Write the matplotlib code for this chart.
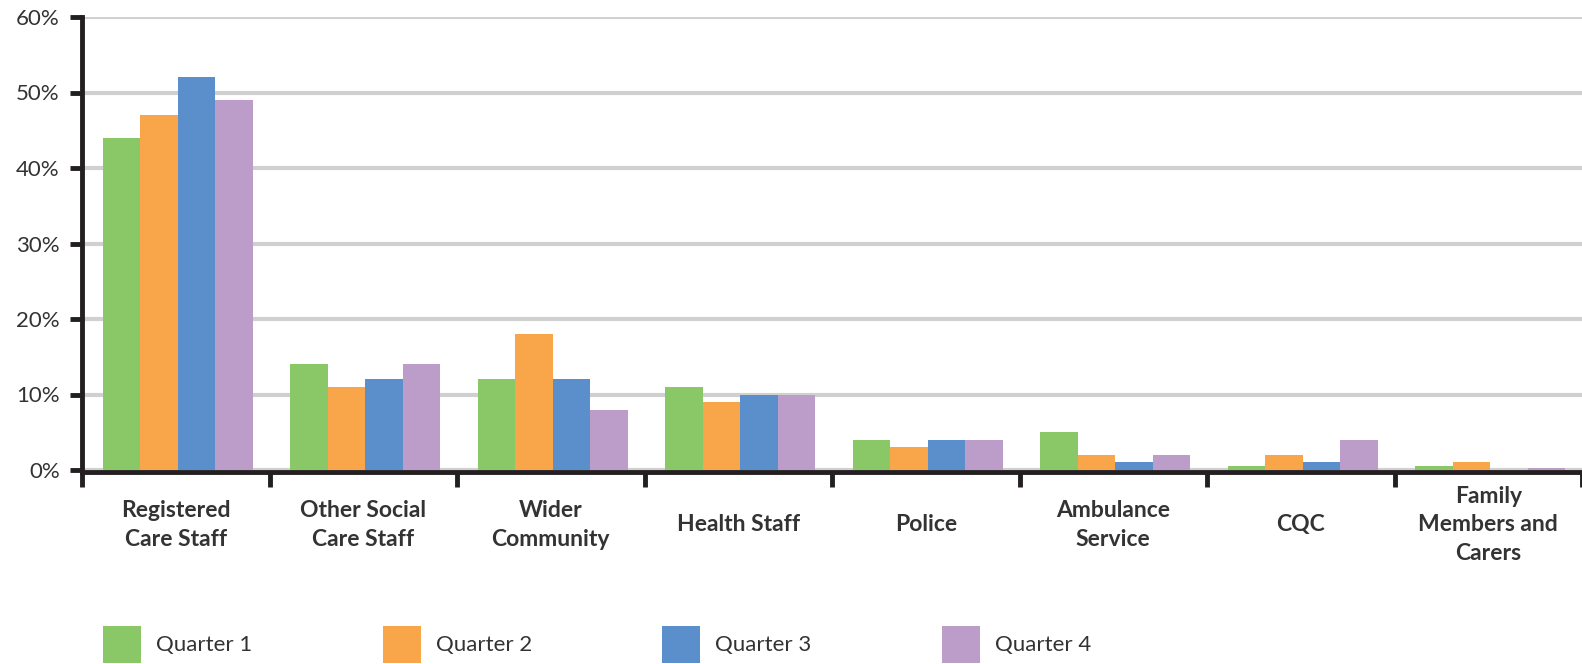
import numpy as np
import matplotlib
matplotlib.use("Agg")
import matplotlib.pyplot as plt
from matplotlib.patches import Patch
from matplotlib.ticker import FuncFormatter

plt.rcParams['font.family'] = ['Lato', 'DejaVu Sans']

# Data (percent)
categories = ['Registered\nCare Staff', 'Other Social\nCare Staff', 'Wider\nCommunity',
              'Health Staff', 'Police', 'Ambulance\nService', 'CQC',
              'Family\nMembers and\nCarers']
quarter_1 = [44, 14, 12, 11, 4, 5, 0.5, 0.5]
quarter_2 = [47, 11, 18, 9, 3, 2, 2, 1]
quarter_3 = [52, 12, 12, 10, 4, 1, 1, 0]
quarter_4 = [49, 14, 8, 10, 4, 2, 4, 0.3]
series_names = ['Quarter 1', 'Quarter 2', 'Quarter 3', 'Quarter 4']
y_ticks = [0, 10, 20, 30, 40, 50, 60]

colors = ['#8AC867', '#F9A54A', '#5A8FCB', '#BC9DC9']
axis_color = '#231F20'
grid_color = '#D0D0D0'
text_color = '#333333'

fig = plt.figure(figsize=(15.82, 6.64), dpi=100)
ax = fig.add_axes([82 / 1582, 1 - 470 / 664, 1 - 82 / 1582, (470 - 17) / 664])

series = [quarter_1, quarter_2, quarter_3, quarter_4]
x = np.arange(len(categories))
bar_w = 0.2
for i, (vals, col) in enumerate(zip(series, colors)):
    ax.bar(x + (i - 1.5) * bar_w + 0.01, vals, width=bar_w, color=col, zorder=2)

ax.set_xlim(-0.5, len(categories) - 0.5)
ax.set_ylim(0, 60)
ax.set_yticks(y_ticks)
ax.yaxis.set_major_formatter(FuncFormatter(lambda v, p: f'{int(v)}%'))
ax.grid(axis='y', color=grid_color, linewidth=3, zorder=0)
ax.set_axisbelow(True)

for s in ['top', 'right']:
    ax.spines[s].set_visible(False)
for s in ['left', 'bottom']:
    ax.spines[s].set_color(axis_color)
    ax.spines[s].set_linewidth(3.5)
    ax.spines[s].set_zorder(3)
# axis line sits just under the zero line so tiny bars stay visible
ax.spines['bottom'].set_position(('outward', 1.5))

ax.tick_params(axis='y', length=9, width=3.5, color=axis_color, labelsize=16,
               labelcolor=text_color, pad=7)

# category labels at centres, boundary tick marks as minor ticks
ax.set_xticks(x, categories)
ax.set_xticks(np.arange(len(categories) + 1) - 0.5, minor=True)
ax.tick_params(axis='x', which='major', length=0, pad=38, labelsize=16.5,
               labelcolor=text_color)
ax.tick_params(axis='x', which='minor', length=11, width=3.5, color=axis_color)
for lbl in ax.get_xticklabels():
    lbl.set_fontweight('bold')
    lbl.set_va('center')
    lbl.set_linespacing(1.45)

handles = [Patch(facecolor=c, edgecolor='none') for c in colors]
fig.legend(handles, series_names, loc='lower left', bbox_to_anchor=(103 / 1582, 1 / 664),
           ncol=4, frameon=False, fontsize=16, handlelength=1.71, handleheight=2.2,
           handletextpad=0.68, columnspacing=5.86, borderpad=0, borderaxespad=0,
           labelcolor=text_color)

fig.savefig('out.png', dpi=100)
